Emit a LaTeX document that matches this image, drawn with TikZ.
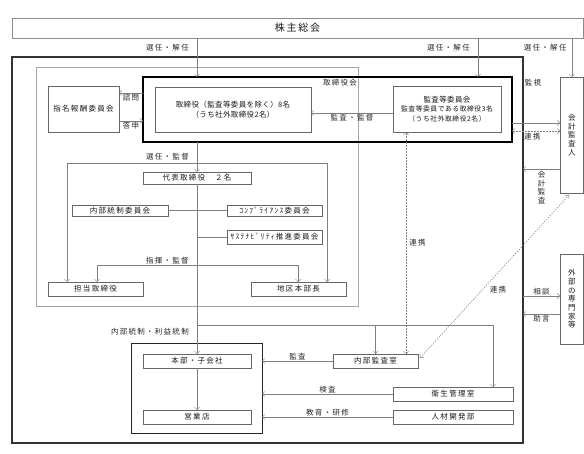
\documentclass[tikz,border=0pt]{standalone}
\usepackage{fontspec}
\usetikzlibrary{arrows.meta,shadows,positioning}
\newfontfamily\jpls[LetterSpace=17]{Noto Sans CJK JP}
\newfontfamily\jpmid[LetterSpace=5]{Noto Sans CJK JP}
\newfontfamily\jpsm[LetterSpace=8]{Noto Sans CJK JP}
\newfontfamily\jpplain{Noto Sans CJK JP}
\newcommand\lbl{\jpls\fontsize{7.5}{8.5}\selectfont}
\newcommand\lblmid{\jpmid\fontsize{7.5}{9.5}\selectfont}
\newcommand\lblsm{\jpsm\fontsize{6.8}{8}\selectfont}
\newcommand\lblbig{\jpls\fontsize{10}{11}\selectfont}
\newcommand\lblv{\jpplain\fontsize{7.5}{8.7}\selectfont}

\tikzset{
  box/.style={draw=black!60, line width=.5pt, fill=white, inner sep=0pt, outer sep=0pt, font=\lbl, align=center, text=black!90},
  shbox/.style={box, drop shadow={shadow xshift=.8pt, shadow yshift=-.8pt, opacity=1, fill=black!70}},
  outerframe/.style={draw, inner sep=0pt, outer sep=0pt},
  lnk/.style={draw=black!50, line width=.5pt},
  arr/.style={lnk, -{Straight Barb[length=2.5pt,width=5pt]}},
  arrs/.style={lnk, {Straight Barb[length=2.5pt,width=5pt]}-{Straight Barb[length=2.5pt,width=5pt]}},
  lbltag/.style={font=\lbl, text=black!85, inner sep=1pt},
}

\begin{document}
\begin{tikzpicture}[x=1pt,y=-1pt]
\useasboundingbox (0,0) rectangle (584,454);

% frames
\node[outerframe, draw=black!80, line width=1.2pt, minimum width=511, minimum height=386] (outer) at (267.5,250) {};
\node[outerframe, draw=black!35, line width=.6pt, minimum width=322, minimum height=239] (kanri) at (197,186.5) {};
\node[outerframe, draw=black, line width=1.6pt, minimum width=369, minimum height=65] (board) at (327.5,109.5) {};
\node[lbltag] (boardname) at (340,83) {取締役会};
\node[outerframe, draw=black!85, line width=1pt, minimum width=131, minimum height=89] (cont) at (196.5,388.5) {};

% boxes
\node[box, font=\lblbig, draw=black!45, minimum width=571, minimum height=20] (kabu) at (297.5,28) {株主総会};
\node[box, minimum width=71, minimum height=46] (shimei) at (83.5,109) {指名報酬委員会};
\node[box, font=\lblmid, minimum width=156, minimum height=45] (tori) at (233,109.5) {取締役（監査等委員を除く）8名\\（うち社外取締役2名）};
\node[box, font=\lblmid, minimum width=108, minimum height=46] (kansa) at (447,109) {監査等委員会\\{\lblsm 監査等委員である取締役3名}\\{\lblsm （うち社外取締役2名）}};
\node[box, font=\lblv, minimum width=23.5, minimum height=116] (kaikei) at (571.75,135) {会\\計\\監\\査\\人};
\node[box, font=\lblv, minimum width=23.5, minimum height=90] (gaibu) at (571.75,299) {外\\部\\の\\専\\門\\家\\等};
\node[box, minimum width=108, minimum height=12] (daihyo) at (197,178) {代表取締役　２名};
\node[box, minimum width=96, minimum height=11] (tousei) at (120,210.5) {内部統制委員会};
\node[shbox, minimum width=95, minimum height=11] (comp) at (274.5,210.5) {ｺﾝﾌﾟﾗｲｱﾝｽ委員会};
\node[shbox, minimum width=95, minimum height=14] (sus) at (274.5,237) {ｻｽﾃﾅﾋﾞﾘﾃｨ推進委員会};
\node[box, minimum width=95, minimum height=14] (tanto) at (95.5,289) {担当取締役};
\node[box, minimum width=95, minimum height=14] (chiku) at (298.5,289) {地区本部長};
\node[box, minimum width=108, minimum height=14] (honbu) at (197,361) {本部・子会社};
\node[box, minimum width=108, minimum height=14] (eigyo) at (197,417) {営業店};
\node[shbox, minimum width=85, minimum height=14] (kansashitsu) at (375.5,361) {内部監査室};
\node[box, minimum width=120, minimum height=14] (eisei) at (453,394) {衛生管理室};
\node[box, minimum width=120, minimum height=14] (jinzai) at (453,417) {人材開発部};

% 株主総会から
\coordinate (xr) at (478,0);
\coordinate (xd) at (406,0);
\draw[arr] (kabu.south -| daihyo) -- node[lbltag, pos=.25, left=7pt] {選任・解任} (board.north -| daihyo);
\draw[arr] (kabu.south -| xr) -- node[lbltag, pos=.25, left=7pt] {選任・解任} (board.north -| xr);
\draw[arr] (kabu.south -| kaikei) -- node[lbltag, pos=.25, left=4pt] {選任・解任} (kaikei.north);

% 取締役会の中
\draw[arr] ([yshift=16.5pt]board.west) -- node[lbltag, below] {諮問} ([yshift=16.5pt]board.west -| shimei.east);
\draw[arr] ([yshift=-12pt]shimei.east) -- node[lbltag, below] {答申} ([yshift=-12pt]shimei.east -| board.west);
\draw[arr] ([yshift=-4pt]kansa.west) -- node[lbltag, below] {監査・監督} ([yshift=-4pt]kansa.west -| tori.east);
\draw[arr] (board.south -| daihyo) -- node[lbltag, left=7pt] {選任・監督} (daihyo.north);

% 選任・監督の枝
\coordinate (selL) at (67,163);
\coordinate (selR) at (327,163);
\draw[lnk] (selL) -- (selR);
\draw[arr] (selL) -- (selL |- tanto.north);
\draw[arr] (selR) -- (selR |- chiku.north);

% 幹線と委員会
\draw[arr] (daihyo.south) -- (honbu.north);
\draw[lnk] (tousei.east) -- (comp.west);
\draw[lnk] (daihyo.south |- sus.west) -- (sus.west);

% 指揮・監督
\coordinate (cmdL) at (97,265);
\coordinate (cmdR) at (298,265);
\draw[lnk] (cmdL) -- node[lbltag, pos=.35, above] {指揮・監督} (cmdR);
\draw[arr] (cmdL) -- (cmdL |- tanto.north);
\draw[arr] (cmdR) -- (cmdR |- chiku.north);

% 内部統制・利益統制
\coordinate (ctlL) at (197,325);
\coordinate (ctlR) at (493,325);
\draw[lnk] (ctlL) node[lbltag, below left=2pt and 7pt] {内部統制・利益統制} -- (ctlR);
\draw[arr] (kansashitsu.north |- ctlL) -- (kansashitsu.north);
\draw[arr] (ctlR) -- (ctlR |- eisei.north);

\draw[arr] (honbu.south) -- (eigyo.north);
\draw[arr] (kansashitsu.west) -- node[lbltag, above] {監査} (kansashitsu.west -| cont.east);
\draw[arr] (eisei.west) -- node[lbltag, above] {検査} (eisei.west -| cont.east);
\draw[arr] (jinzai.west) -- node[lbltag, above] {教育・研修} (jinzai.west -| cont.east);

% 連携
\draw[arrs, densely dotted] (kansa.south -| xd) -- node[lbltag, right=2pt] {連携} (kansashitsu.north -| xd);
\draw[arrs, dash pattern=on 1.5pt off 1.2pt] ([xshift=2pt,yshift=3pt]kansashitsu.east) -- node[lbltag, pos=.42, right=6pt] {連携} ([xshift=9pt,yshift=-2pt]kaikei.south west);

% 会計監査人・外部の専門家
\node[lbltag] (kanshi) at (533,83) {監視};
\draw[arr] ([yshift=-13.5pt]board.east) -- ([yshift=-13.5pt]board.east -| kaikei.west);
\draw[arrs, densely dotted] ([yshift=-21.5pt]board.east) -- node[lbltag, pos=.42, below=1pt] {連携} ([yshift=-21.5pt]board.east -| kaikei.west);
\draw[arr] ([yshift=-34pt]kaikei.west) -- node[font=\lblv, text=black!85, align=center, inner sep=1pt, below=1pt] {会\\計\\監\\査} ([yshift=-34pt]kaikei.west -| outer.east);
\draw[arr] ([yshift=3pt]gaibu.west -| outer.east) -- node[lbltag, above] {相談} ([yshift=3pt]gaibu.west);
\draw[arr] ([yshift=-15pt]gaibu.west) -- node[lbltag, below] {助言} ([yshift=-15pt]gaibu.west -| outer.east);
\end{tikzpicture}
\end{document}
